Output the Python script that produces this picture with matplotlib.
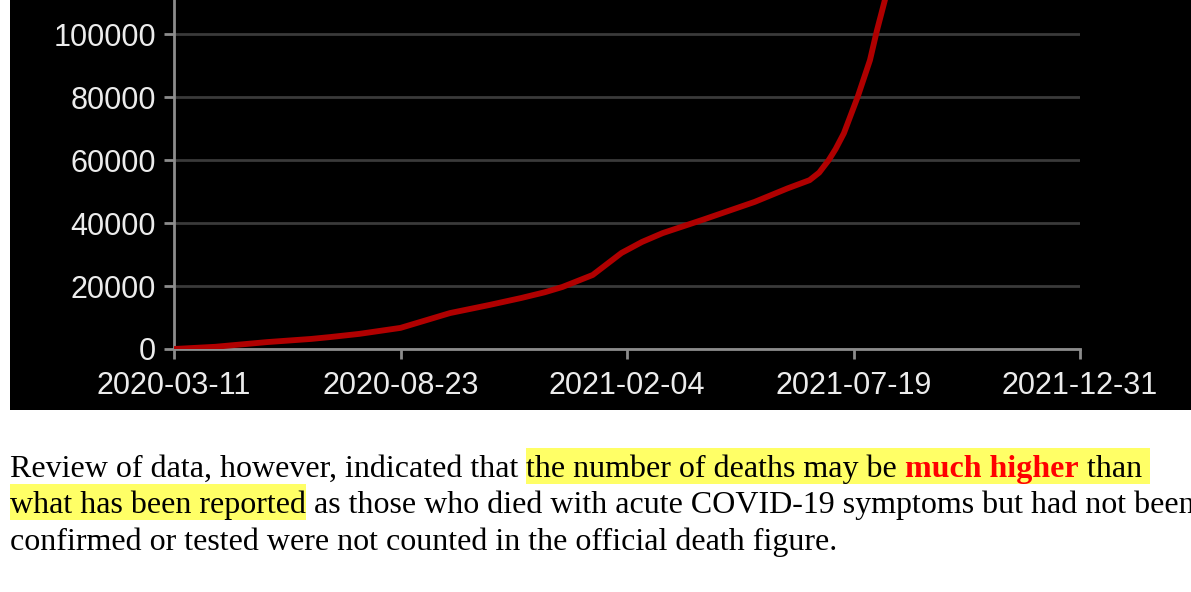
import matplotlib
matplotlib.use("Agg")
import matplotlib.pyplot as plt
import matplotlib.dates as mdates
from matplotlib.patches import Rectangle
import numpy as np

# cumulative deaths
dates = ["2020-03-11", "2020-04-10", "2020-05-18", "2020-06-19", "2020-07-03",
         "2020-07-24", "2020-08-23", "2020-09-28", "2020-10-27", "2020-11-19",
         "2020-12-06", "2020-12-19", "2021-01-10", "2021-01-31", "2021-02-15",
         "2021-03-02", "2021-03-31", "2021-05-08", "2021-06-01", "2021-06-17",
         "2021-06-24", "2021-07-01", "2021-07-06", "2021-07-12", "2021-07-22",
         "2021-07-31", "2021-08-05", "2021-08-11"]
deaths = [0, 700, 2200, 3200, 3800,
          4800, 6700, 11400, 14000, 16200,
          18000, 19700, 23500, 30500, 34000,
          36800, 41000, 46700, 51000, 53600,
          56000, 60000, 63500, 68500, 80000,
          91700, 101000, 111000]

tick_dates = ["2020-03-11", "2020-08-23", "2021-02-04", "2021-07-19", "2021-12-31"]
y_ticks = [0, 20000, 40000, 60000, 80000, 100000]

# paragraph below the chart: (text, highlighted, emphasised)
line1 = [("Review of data, however, indicated that ", False, False),
         ("the number of deaths may be ", True, False),
         ("much higher", True, True),
         (" than ", True, False)]
line2 = [("what has been reported", True, False),
         (" as those who died with acute COVID-19 symptoms but had not been", False, False)]
line3 = [("confirmed or tested were not counted in the official death figure.", False, False)]

W, H = 1191, 592
fig = plt.figure(figsize=(W / 100, H / 100), dpi=100)
fig.patch.set_facecolor("white")

def fx(px):
    return px / W

def fy(py):
    return (H - py) / H

# black panel behind the chart
fig.patches.append(Rectangle((fx(10), fy(410)), 1 - fx(10), fy(0) - fy(410),
                             transform=fig.transFigure, facecolor="black",
                             edgecolor="none", zorder=-5))

ax = fig.add_axes([fx(174), fy(349), fx(1080) - fx(174), fy(0) - fy(349)])
ax.set_facecolor("black")

x = mdates.datestr2num(dates)
ax.plot(x, deaths, color="#b00000", lw=4.2, solid_capstyle="round",
        solid_joinstyle="round", zorder=3)

ticks = mdates.datestr2num(tick_dates)
ax.set_xlim(ticks[0], ticks[-1])
ax.set_ylim(0, 110800)
ax.set_xticks(ticks)
ax.xaxis.set_major_formatter(mdates.DateFormatter("%Y-%m-%d"))
ax.set_yticks(y_ticks)

ax.grid(axis="y", color="#3a3a3a", lw=2)
ax.set_axisbelow(True)
for s in ["top", "right"]:
    ax.spines[s].set_visible(False)
for s in ["left", "bottom"]:
    ax.spines[s].set_color("#8c8c8c")
    ax.spines[s].set_linewidth(2)
ax.tick_params(colors="#8c8c8c", width=2, length=7, labelcolor="#ececec",
               labelsize=22)
ax.tick_params(axis="y", pad=6)
ax.tick_params(axis="x", pad=9)
for lab in ax.get_xticklabels() + ax.get_yticklabels():
    lab.set_family("Liberation Sans")

# paragraph text with highlighted spans
renderer = fig.canvas.get_renderer()
fs = 23

def seg_width(s, bold):
    w = {}
    for t in ("|" + s + "|", "||"):
        tt = fig.text(0, 0, t, family="Liberation Serif", size=fs,
                      weight="bold" if bold else "normal")
        w[t] = tt.get_window_extent(renderer).width
        tt.remove()
    return w["|" + s + "|"] - w["||"]

baselines = [477, 513, 550]
for line, base in zip([line1, line2, line3], baselines):
    xpos = 10
    for s, hl, em in line:
        wd = seg_width(s, em)
        if hl:
            fig.patches.append(Rectangle((fx(xpos), fy(base + 7)), wd / W, 36.5 / H,
                                         transform=fig.transFigure,
                                         facecolor="#ffff66", edgecolor="none",
                                         zorder=-5))
        fig.text(fx(xpos), fy(base), s, family="Liberation Serif", size=fs,
                 weight="bold" if em else "normal",
                 color="#ff0000" if em else "black", va="baseline", ha="left")
        xpos += wd

fig.savefig("out.png", dpi=100, facecolor="white")
